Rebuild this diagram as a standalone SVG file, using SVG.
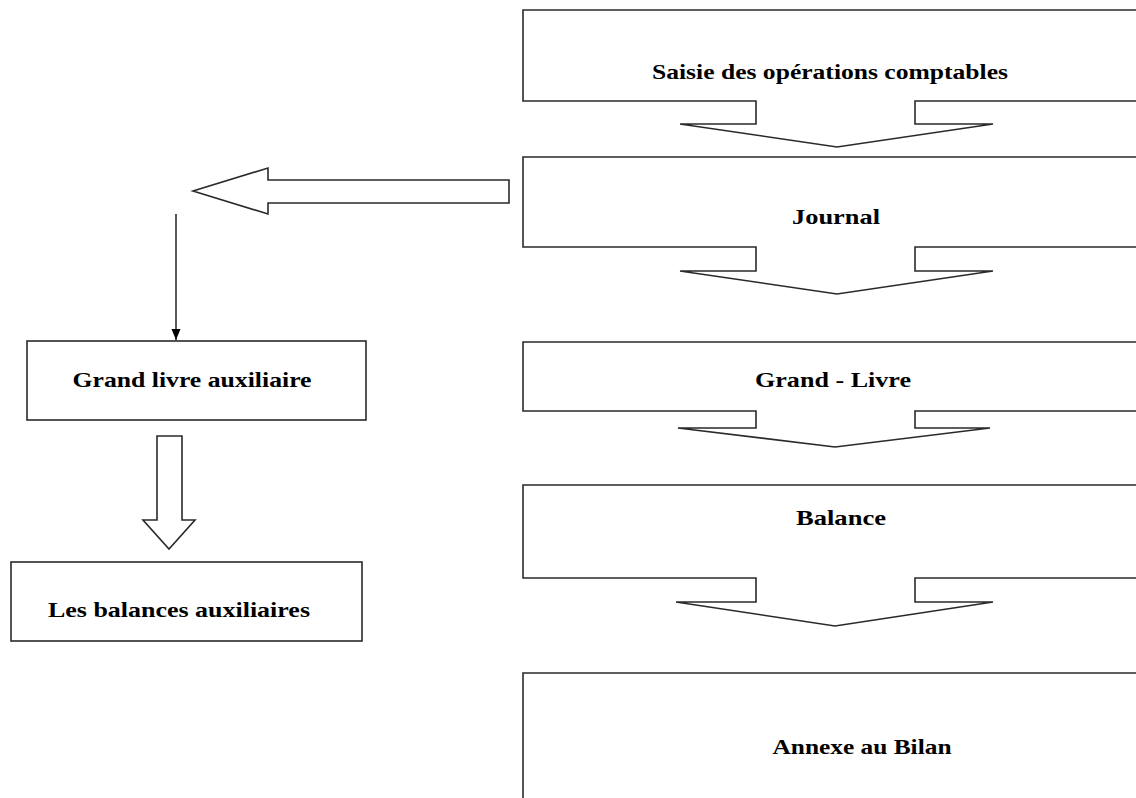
<svg xmlns="http://www.w3.org/2000/svg" width="1136" height="798" viewBox="0 0 1136 798">
<style>
.s{fill:#fff;stroke:#2a2a2a;stroke-width:1.6;stroke-linejoin:miter}
.t{font-family:"Liberation Serif","Times New Roman",serif;font-weight:bold;font-size:21px;fill:#000;text-anchor:middle}
</style>
<defs>
<marker id="ah" markerWidth="11" markerHeight="10" refX="11" refY="5" orient="auto" markerUnits="userSpaceOnUse" viewBox="0 0 11 10">
<path d="M0,0.5 L11,5 L0,9.5 Z" fill="#000"/>
</marker>
</defs>
<rect width="1136" height="798" fill="#fff"/>
<g id="saisie">
<path class="s" d="M1145,10 H523 V101 H756 V124 H680 L837,147 L993,124 H915 V101 H1145"/>
<text class="t" x="830" y="79" textLength="356" lengthAdjust="spacingAndGlyphs">Saisie des opérations comptables</text>
</g>
<g id="journal">
<path class="s" d="M1145,157 H523 V247 H756 V271 H680 L837,294 L993,271 H915 V247 H1145"/>
<text class="t" x="836" y="224" textLength="88" lengthAdjust="spacingAndGlyphs">Journal</text>
</g>
<g id="grand-livre">
<path class="s" d="M1145,342 H523 V411 H756 V428 H678 L835,447 L990,428 H915 V411 H1145"/>
<text class="t" x="833" y="387" textLength="156" lengthAdjust="spacingAndGlyphs">Grand - Livre</text>
</g>
<g id="balance">
<path class="s" d="M1145,485 H523 V578 H756 V602 H676 L835,626 L993,602 H915 V578 H1145"/>
<text class="t" x="841" y="525" textLength="90" lengthAdjust="spacingAndGlyphs">Balance</text>
</g>
<g id="annexe">
<path class="s" d="M1145,673 H523 V805"/>
<text class="t" x="862" y="754" textLength="179" lengthAdjust="spacingAndGlyphs">Annexe au Bilan</text>
</g>
<g id="grand-livre-aux">
<rect class="s" x="27" y="341" width="339" height="79"/>
<text class="t" x="192" y="387" textLength="239" lengthAdjust="spacingAndGlyphs">Grand livre auxiliaire</text>
</g>
<g id="balances-aux">
<rect class="s" x="11" y="562" width="351" height="79"/>
<text class="t" x="179" y="617" textLength="262" lengthAdjust="spacingAndGlyphs">Les balances auxiliaires</text>
</g>
<g id="connectors">
<path class="s" d="M509,180 H268 V168 L193,191 L268,214 V203 H509 Z"/>
<line x1="176" y1="214" x2="176" y2="340" stroke="#000" stroke-width="1.3" marker-end="url(#ah)"/>
<path class="s" d="M157,436 H182 V520 H195 L169,549 L143,520 H157 Z"/>
</g>
</svg>
